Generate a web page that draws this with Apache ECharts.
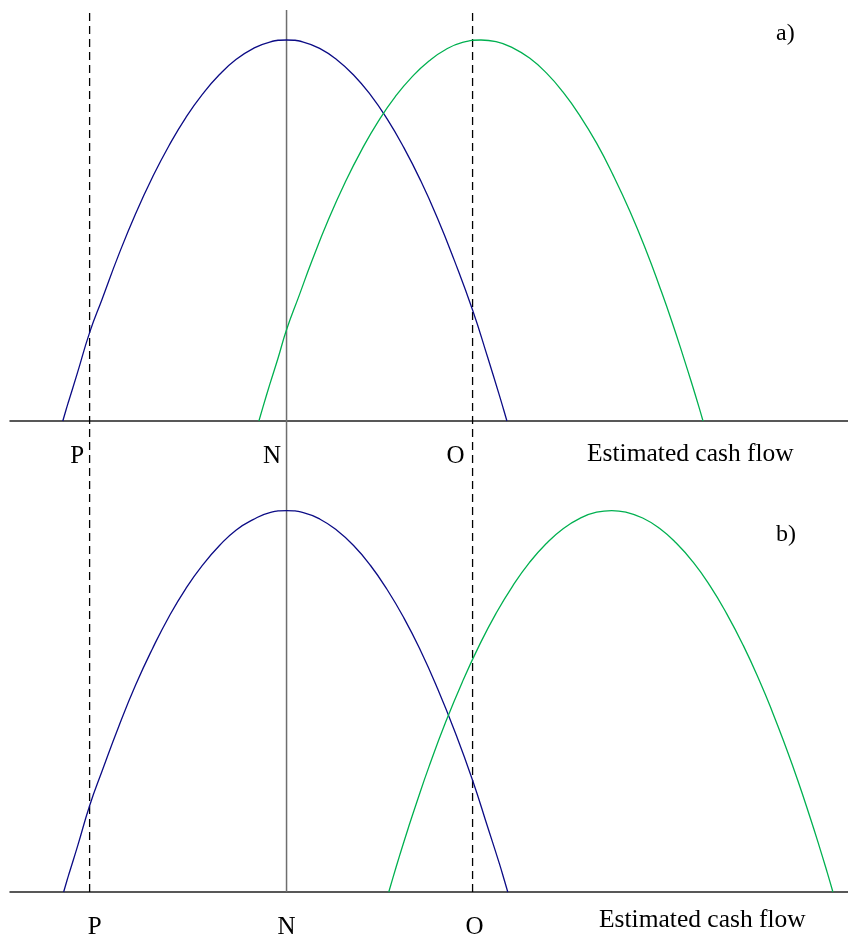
<!DOCTYPE html>
<html>
<head>
<meta charset="utf-8">
<script src="https://cdn.jsdelivr.net/npm/echarts@6/dist/echarts.min.js"></script>
<style>
  html, body { margin: 0; padding: 0; background: #fff; }
  #chart { width: 848px; height: 937px; }
</style>
</head>
<body>
<div id="chart"></div>
<script>
// tick positions on the cash flow axis (0..100) and their labels
const tickPos = [9.5, 33, 55.2];
const tickLabels = ['P', 'N', 'O'];
const axisName = 'Estimated cash flow';
const panelNames = ['a)', 'b)'];

// panel a) curves, [cash flow, density]
const blueA = [[6.3, 0], [6.7, 2.8], [7, 4.8], [8, 11.4], [9.5, 21.5], [11, 29.7], [13, 40.6], [15, 50.5],
  [17, 59.3], [19, 67.1], [21, 73.9], [23, 79.6], [25, 84.3], [27, 88], [29, 90.6], [31, 92.2], [33, 92.7],
  [35, 92.2], [37, 90.6], [39, 87.9], [41, 84.2], [43, 79.4], [45, 73.5], [47, 66.5], [49, 58.5], [51, 49.4],
  [53, 39.2], [55.2, 27], [57, 15.5], [58.3, 6.9], [58.9, 2.8], [59.3, 0]];
const greenA = [[29.7, 0], [30.2, 3.5], [31, 8.9], [32, 15.4], [33, 22.2], [34.5, 30.5], [36, 38.8], [38, 49],
  [40, 58.1], [42, 66.1], [44, 73.1], [46, 79], [48, 83.8], [50, 87.6], [52, 90.4], [54, 92.1], [56.2, 92.7],
  [58, 92.3], [60, 90.8], [62, 88.3], [64, 84.7], [66, 80], [68, 74.3], [70, 67.6], [72, 59.7], [74, 50.9],
  [76, 41], [77.5, 32.8], [79, 24.1], [80.5, 14.7], [81.5, 8.2], [82.2, 3.5], [82.7, 0]];

// panel b) curves
const blueB = [[6.4, 0], [6.8, 2.8], [7.1, 4.8], [8.1, 11.4], [9.5, 21], [11, 29.5], [13, 40.4], [15, 50.4],
  [17, 59.2], [19, 67.1], [21, 73.9], [23, 79.6], [25, 84.3], [27, 88.1], [29, 90.6], [31, 92.3], [33, 92.8],
  [35, 92.3], [37, 90.7], [39, 88], [41, 84.3], [43, 79.5], [45, 73.6], [47, 66.7], [49, 58.7], [51, 49.6],
  [53, 39.5], [55.2, 27.2], [57, 15.8], [58.4, 6.9], [59, 2.8], [59.4, 0]];
const greenB = [[45.2, 0], [45.7, 3.5], [46.5, 8.9], [47.5, 15.4], [48.5, 21.6], [50, 30.5], [52, 41.4], [54, 51.2],
  [56, 60], [58, 67.8], [60, 74.5], [62, 80.2], [64, 84.8], [66, 88.4], [68, 90.9], [70, 92.4], [71.8, 92.8],
  [73.5, 92.4], [75.5, 91], [77.5, 88.5], [79.5, 84.9], [81.5, 80.3], [83.5, 74.6], [85.5, 67.8], [87.5, 60],
  [89.5, 51.1], [91, 43.7], [92.5, 35.7], [94, 27.2], [95.5, 18], [96.5, 11.6], [97.5, 4.9], [98.2, 0]];

const SERIF = "'Liberation Serif', 'Times New Roman', serif";
const BLUE = '#0b0b85';
const GREEN = '#00b050';

const chart = echarts.init(document.getElementById('chart'));

const xAxisBase = {
  type: 'value', min: 0, max: 100,
  axisTick: { show: false }, axisLabel: { show: false }, splitLine: { show: false }
};
const yAxisBase = {
  type: 'value', min: 0, max: 100, show: false, splitLine: { show: false }
};

function curve(data, color, idx) {
  return {
    type: 'line', data: data, xAxisIndex: idx, yAxisIndex: idx,
    smooth: true, showSymbol: false, silent: true,
    lineStyle: { color: color, width: 1.3 }
  };
}

// offsets of the P/N/O labels from their line, per panel
const labelShift = [[-12.5, -14.5, -17], [5, 0, 2]];

function tickLabelSeries(idx) {
  return {
    type: 'scatter', xAxisIndex: idx, yAxisIndex: idx, symbolSize: 0, silent: true,
    itemStyle: { color: '#000', opacity: 1 },
    data: tickPos.map((x, i) => ({
      value: [x, 0],
      label: {
        show: true, position: 'inside', formatter: tickLabels[i],
        offset: [labelShift[idx][i], 35],
        color: '#000', textBorderWidth: 0, fontFamily: SERIF, fontSize: 25
      }
    }))
  };
}

function vLine(x, dashed) {
  return {
    type: 'line', xAxisIndex: 2, yAxisIndex: 2, data: [[x, 0], [x, 1]],
    showSymbol: false, silent: true,
    lineStyle: dashed
      ? { color: '#000', width: 1.3, type: [8, 5] }
      : { color: '#6e6e6e', width: 1.5 }
  };
}

chart.setOption({
  animation: false,
  grid: [
    { left: 10, right: 0, top: 10, height: 411 },
    { left: 10, right: 0, top: 481, height: 411 },
    { left: 10, right: 0, top: 10, height: 882 }
  ],
  xAxis: [
    Object.assign({ gridIndex: 0, axisLine: { lineStyle: { color: '#222', width: 1.5 } } }, xAxisBase),
    Object.assign({ gridIndex: 1, axisLine: { lineStyle: { color: '#222', width: 1.5 } } }, xAxisBase),
    Object.assign({ gridIndex: 2, axisLine: { show: false } }, xAxisBase)
  ],
  yAxis: [
    Object.assign({ gridIndex: 0 }, yAxisBase),
    Object.assign({ gridIndex: 1 }, yAxisBase),
    Object.assign({ gridIndex: 2 }, yAxisBase, { max: 1 })
  ],
  series: [
    vLine(tickPos[0], true),
    vLine(tickPos[1], false),
    vLine(tickPos[2], true),
    curve(blueA, BLUE, 0),
    curve(greenA, GREEN, 0),
    curve(blueB, BLUE, 1),
    curve(greenB, GREEN, 1),
    tickLabelSeries(0),
    tickLabelSeries(1)
  ],
  graphic: [
    { type: 'text', left: 587, top: 441, style: { text: axisName, font: '25.5px ' + SERIF, fill: '#000' } },
    { type: 'text', left: 599, top: 907, style: { text: axisName, font: '25.5px ' + SERIF, fill: '#000' } },
    { type: 'text', left: 776, top: 22, style: { text: panelNames[0], font: '24px ' + SERIF, fill: '#000' } },
    { type: 'text', left: 776, top: 523, style: { text: panelNames[1], font: '24px ' + SERIF, fill: '#000' } }
  ]
});
</script>
</body>
</html>
